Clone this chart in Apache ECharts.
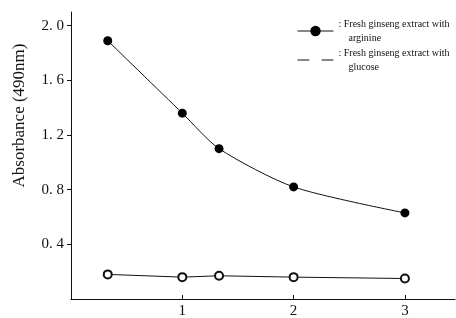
<!DOCTYPE html>
<html>
<head>
<meta charset="utf-8">
<script src="https://cdn.jsdelivr.net/npm/echarts@6/dist/echarts.min.js"></script>
<style>
  html, body { margin: 0; padding: 0; background: #fff; }
  #chart { width: 456px; height: 318px; }
</style>
</head>
<body>
<div id="chart"></div>
<script>
// time points (x) and absorbance readings
var xPoints = [0.33, 1, 1.33, 2, 3];
var arginine = [1.89, 1.36, 1.10, 0.82, 0.63];
var glucose = [0.18, 0.16, 0.17, 0.16, 0.15];
var yTicks = [0.4, 0.8, 1.2, 1.6, 2.0];
var xTicks = [1, 2, 3];

var serif = '"Liberation Serif", "DejaVu Serif", serif';

function pairs(xs, ys) {
    var out = [];
    for (var i = 0; i < xs.length; i++) out.push([xs[i], ys[i]]);
    return out;
}

var chart = echarts.init(document.getElementById('chart'));
var option = {
    backgroundColor: '#fff',
    animation: false,
    grid: { left: 71, right: 1, top: 12, bottom: 19, outerBoundsMode: 'none', containLabel: false },
    legend: {
        orient: 'vertical',
        left: 297,
        top: 17,
        padding: 0,
        itemGap: 1,
        itemWidth: 36,
        itemHeight: 13,
        lineStyle: { width: 1 },
        textStyle: { fontFamily: serif, fontSize: 10, color: '#111', lineHeight: 14 },
        data: [
            { name: 'arg' },
            { name: 'glu', itemStyle: { color: '#fff', borderColor: '#fff' } }
        ],
        formatter: function(name) {
            if (name == 'arg') return ': Fresh ginseng extract with\n    arginine';
            return ': Fresh ginseng extract with\n    glucose';
        }
    },
    xAxis: {
        type: 'value',
        min: 0,
        max: 3.45,
        splitLine: { show: false },
        axisLine: { lineStyle: { color: '#111', width: 1 } },
        axisTick: { inside: true, length: 4, customValues: xTicks, lineStyle: { color: '#111' } },
        axisLabel: {
            customValues: xTicks,
            margin: 5,
            color: '#111',
            fontFamily: serif,
            fontSize: 15
        }
    },
    yAxis: {
        type: 'value',
        min: 0,
        max: 2.1,
        name: 'Absorbance (490nm)',
        nameLocation: 'middle',
        nameGap: 43,
        nameRotate: 90,
        nameTextStyle: { fontFamily: serif, fontSize: 17, color: '#111', padding: [0, 0, 0, 80] },
        splitLine: { show: false },
        axisLine: { show: true, lineStyle: { color: '#111', width: 1 } },
        axisTick: { length: 4, customValues: yTicks, lineStyle: { color: '#111' } },
        axisLabel: {
            customValues: yTicks,
            margin: 7,
            color: '#111',
            fontFamily: serif,
            fontSize: 15,
            formatter: function(v) {
                return v.toFixed(1).replace('.', '. ');
            }
        }
    },
    series: [
        {
            name: 'arg',
            type: 'line',
            smooth: 0.25,
            data: pairs(xPoints, arginine),
            symbol: 'circle',
            symbolSize: 9,
            itemStyle: { color: '#000' },
            lineStyle: { color: '#111', width: 1 }
        },
        {
            name: 'glu',
            type: 'line',
            data: pairs(xPoints, glucose),
            symbol: 'emptyCircle',
            symbolSize: 8,
            itemStyle: { color: '#111', borderWidth: 1.2 },
            lineStyle: { color: '#111', width: 1 }
        }
    ]
};
chart.setOption(option);
</script>
</body>
</html>
